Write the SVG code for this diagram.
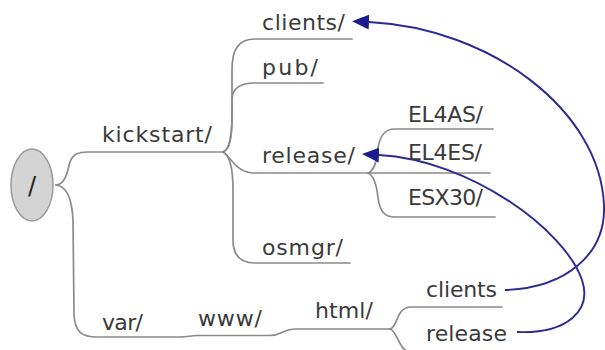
<svg xmlns="http://www.w3.org/2000/svg" width="605" height="350" viewBox="0 0 605 350">
<style>
.edge{fill:none;stroke:#8a8a8a;stroke-width:1.7;stroke-linecap:round}
.link{fill:none;stroke:#2a2a92;stroke-width:1.9}
.t{font-family:"DejaVu Sans","Liberation Sans",sans-serif;font-size:22px;fill:#3a3a3a}
</style>
<defs>
<marker id="arr" markerUnits="userSpaceOnUse" markerWidth="18" markerHeight="16" viewBox="0 0 18 16" refX="0" refY="8" orient="auto">
<path d="M0,0.5 L17,8 L0,15.5 z" fill="#1c1c8c"/>
</marker>
</defs>
<rect width="605" height="350" fill="#ffffff"/>
<g id="connectors">
<path class="edge" d="M56,185 C66,185 68,168 70,162 C73,154 78,152 88,152 L223,152"/>
<path class="edge" d="M56,185 C67,186 72,200 73,220 L74,315 C75,332 82,337 97,337 L180,337 C188,337 190,335.5 198,335.5 L270,335.5 C282,335.5 283,329 295,329 L390,329"/>
<path class="edge" d="M223,152 C229,150 232,140 232,115 L232,70 C232,50 238,39 255,39 L352,39"/>
<path class="edge" d="M223,152 C229,150 232,140 232,115 L232,100 C232,90 238,83 255,83 L323,83"/>
<path class="edge" d="M223,152 C230,155 235,173 255,173 L490,173"/>
<path class="edge" d="M223,152 C229,155 233,165 233,190 L233,240 C233,255 240,263 255,263 L350,263"/>
<path class="edge" d="M368,173 C375,170 377,160 378,148 C380,135 385,129 395,129 L493,129"/>
<path class="edge" d="M368,173 C375,176 377,188 378,198 C380,212 385,217 395,217 L495,217"/>
<path class="edge" d="M390,329 C398,327 396,308 410,307 L502,307"/>
<path class="edge" d="M390,329 C398,331 398,352 412,352 L515,352"/>
<path class="link" marker-end="url(#arr)" d="M505,290 C565,288 606,255 604,205 C600,110 490,28 369,22"/>
<path class="link" marker-end="url(#arr)" d="M517,332 C568,334 592,310 582,280 C565,230 470,160 379,155"/>
</g>
<g id="root">
<ellipse cx="32" cy="185" rx="21" ry="36" fill="#d4d4d4" stroke="#9a9a9a" stroke-width="1.5"/>
<text class="t" x="32" y="194" text-anchor="middle" style="font-size:24px;fill:#222">/</text>
</g>
<g id="kickstart"><text class="t" x="102" y="142" textLength="110" lengthAdjust="spacing">kickstart/</text></g>
<g id="clients-dir"><text class="t" x="262" y="30" textLength="83" lengthAdjust="spacing">clients/</text></g>
<g id="pub"><text class="t" x="262" y="75" textLength="56" lengthAdjust="spacing">pub/</text></g>
<g id="release-dir"><text class="t" x="262" y="163" textLength="93" lengthAdjust="spacing">release/</text></g>
<g id="osmgr"><text class="t" x="262" y="255" textLength="81" lengthAdjust="spacing">osmgr/</text></g>
<g id="el4as"><text class="t" x="408" y="122" textLength="75" lengthAdjust="spacing">EL4AS/</text></g>
<g id="el4es"><text class="t" x="408" y="160" textLength="74" lengthAdjust="spacing">EL4ES/</text></g>
<g id="esx30"><text class="t" x="408" y="205" textLength="75" lengthAdjust="spacing">ESX30/</text></g>
<g id="var"><text class="t" x="102" y="330" textLength="41" lengthAdjust="spacing">var/</text></g>
<g id="www"><text class="t" x="198" y="326" textLength="64" lengthAdjust="spacing">www/</text></g>
<g id="html"><text class="t" x="315" y="318" textLength="58" lengthAdjust="spacing">html/</text></g>
<g id="clients"><text class="t" x="426" y="297" textLength="71" lengthAdjust="spacing">clients</text></g>
<g id="release"><text class="t" x="426" y="341" textLength="81" lengthAdjust="spacing">release</text></g>
</svg>
